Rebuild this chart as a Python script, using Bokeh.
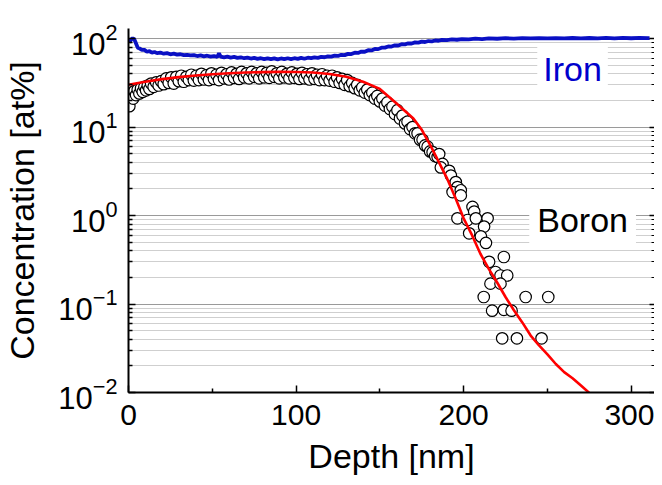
from bokeh.plotting import figure
from bokeh.models import LogAxis, FixedTicker, Label, Range1d
from bokeh.embed import file_html
from bokeh.resources import INLINE

FONT = "Liberation Sans"

# ---------------- data ----------------
iron_depth = [0.5, 1.5, 2.5, 3.5, 4.5, 5.5, 6.5, 8, 9.5, 11, 12.5, 14, 15.5, 17, 19, 21, 23, 25, 27, 29,
              31, 33, 35, 37, 39, 41, 43, 45, 47, 49, 51, 53, 54, 55, 57, 59, 61, 63, 65, 67,
              69, 71, 73, 75, 77, 79, 81, 83, 85, 87, 89, 91, 93, 95, 97, 99, 101, 103, 105, 107,
              109, 111, 113, 115, 117, 119, 121, 123, 125, 127, 129, 131, 133, 135, 137, 139, 141, 143, 145, 147,
              149, 151, 153, 155, 157, 159, 161, 163, 165, 167, 169, 171, 173, 175, 177, 179, 181, 183, 185, 187,
              190, 193, 196, 199, 203, 207, 211, 215, 220, 225, 230, 235, 240, 245, 250, 255, 260, 265, 270, 275,
              280, 285, 290, 295, 300, 305, 310, 311]
iron_conc = [90, 97, 101, 98, 88, 79, 77.5, 74.5, 74.5, 71, 72, 69.5, 70.5, 68.5, 69.5, 67.5, 68.5, 66.5, 67.5, 66,
             66.5, 65, 65.5, 64.5, 65, 63.5, 64.5, 63, 64, 62.5, 63.5, 62, 68, 62.5, 61.5, 62.5, 61, 62, 60.5, 61.5,
             60, 61, 59.5, 60.5, 59, 60, 58.5, 59.8, 58.5, 59.8, 58.3, 59.6, 58.5, 60, 58.6, 60, 59, 60.5, 59.2, 60.8,
             60, 61.3, 60.6, 62, 61.5, 63, 62.5, 64.2, 63.6, 65.6, 65, 67.2, 66.8, 69.2, 68.8, 71.3, 71, 73.8, 73.5, 76.3,
             76, 78.9, 79, 81.5, 81.2, 84, 83.5, 86.5, 86, 88.5, 88, 90.5, 90, 92.2, 91.5, 93.8, 93.2, 95.2, 94.5, 96.5,
             96, 97.8, 97, 98.8, 98, 99.8, 98.8, 100.6, 99.6, 101, 100, 101.2, 100.3, 101.3, 100.4, 101.4, 100.5, 101.5, 100.6, 101.5,
             100.7, 101.6, 100.8, 101.7, 100.9, 101.7, 101, 101.3]

boron_depth = [0.5, 1.2, 2.0, 2.8, 3.5, 4.5, 5.5, 6.5, 7.5, 8.5, 9.5, 10.5, 11.5, 12.5, 13.5, 15, 16.5, 18, 19.5, 21,
               22.5, 24, 25.5, 27, 28.5, 30, 31.5, 33, 34.5, 36, 37.5, 39, 40.5, 42, 43.5, 45, 46.5, 48, 49.5, 51,
               52.5, 54, 55.5, 57, 58.5, 60, 61.5, 63, 64.5, 66, 67.5, 69, 70.5, 72, 73.5, 75, 76.5, 78, 79.5, 81,
               82.5, 84, 85.5, 87, 88.5, 90, 91.5, 93, 94.5, 96, 97.5, 99, 100.5, 102, 103.5, 105, 106.5, 108, 109.5, 111,
               112.5, 114, 115.5, 117, 118.5, 120, 121.5, 123, 124.5, 126, 127.5, 129, 130.5, 132, 133.5, 135, 136.5, 138, 139.5, 141,
               142.5, 144, 145.5, 147, 148.5, 150, 151.5, 153, 154.5, 156, 157.5, 159, 160.5, 162, 163.5, 165, 166.5, 168, 169.5, 171,
               172.5, 174, 175.5, 177, 178.5, 180, 181.5, 183, 184.5, 185.4, 187.4, 186.4, 191.4, 192.4, 195.3, 196.3, 193.4, 198.3, 198.3, 205.3,
               206.3, 196.3, 202.3, 207.3, 214.3, 212.2, 203.3, 210.3, 213.3, 215.2, 224, 219, 222, 226, 216, 222, 212, 237, 250.5, 217,
               224, 228.6, 223, 231.8, 246.5]
boron_conc = [17.2, 22, 24, 21, 25.5, 23, 26.5, 24, 27.5, 25, 28.5, 26, 29.5, 27, 31, 28.5, 32, 29.5, 33, 30.5,
              35.5, 31.5, 36.5, 31, 37, 33, 38, 32.5, 37, 34, 39, 33.5, 38, 34, 40, 34.5, 38.5, 34, 40.5, 35,
              39, 34, 41, 35.5, 39.5, 34.5, 41.5, 36, 40, 35, 42, 36.5, 40.5, 35.5, 42, 37, 40.5, 35.5, 42, 36.5,
              41, 36, 42.5, 37, 40.5, 35.5, 42, 36.5, 40, 35.5, 41.5, 36, 40, 35, 41, 35.5, 39.5, 34.5, 40.5, 35,
              39, 34, 39.5, 34, 38, 33.5, 38, 32.5, 36.5, 31.5, 35, 30, 34, 29, 31.5, 27.5, 30, 26, 28, 24.5,
              26.5, 23, 24.5, 21, 22.5, 19.5, 21, 17.5, 19, 16, 17, 14, 15.5, 12.5, 13.5, 11, 11.5, 9.5, 10, 8.5,
              8.5, 7.2, 7.2, 6.2, 6, 5.3, 5.2, 4.7, 4.6, 4.95, 3.83, 3.5, 3.2, 2.83, 2.39, 2.1, 1.84, 1.93, 1.69, 1.25,
              1.11, 0.93, 0.89, 0.93, 0.93, 0.75, 0.63, 0.58, 0.49, 0.30, 0.34, 0.23, 0.21, 0.21, 0.17, 0.17, 0.12, 0.12, 0.12, 0.084,
              0.086, 0.084, 0.041, 0.041, 0.041]

fit_depth = [0, 10, 20, 30, 40, 50, 60, 70, 80, 90, 100, 110, 120, 130, 140, 150, 160, 170, 175, 180,
             185, 190, 195, 200, 205, 210, 215, 220, 225, 230, 235, 240, 245, 250, 255, 260, 265, 270, 275, 280]
fit_conc = [30, 32.5, 34.8, 36.7, 38.3, 39.6, 40.6, 41.3, 41.8, 42, 41.9, 41.3, 39.8, 37, 32.5, 27, 18.5, 12.5, 9.3, 6.3,
            4.1, 2.65, 1.6, 0.93, 0.6, 0.37, 0.25, 0.175, 0.12, 0.085, 0.062, 0.044, 0.034, 0.027, 0.021, 0.017, 0.0145, 0.012, 0.0099, 0.0083]

x_major = [0, 100, 200, 300]
x_minor = [50, 150, 250]
y_major = [0.01, 0.1, 1, 10, 100]
y_minor = [0.02, 0.03, 0.04, 0.05, 0.06, 0.07, 0.08, 0.09,
           0.2, 0.3, 0.4, 0.5, 0.6, 0.7, 0.8, 0.9,
           2, 3, 4, 5, 6, 7, 8, 9,
           20, 30, 40, 50, 60, 70, 80, 90]

# ---------------- figure ----------------
p = figure(width=654, height=477, y_axis_type="log",
           x_range=Range1d(0, 313.9), y_range=Range1d(0.01, 130),
           output_backend="svg", toolbar_location=None,
           min_border_left=120, min_border_right=0, min_border_top=28, min_border_bottom=81)
p.outline_line_color = None
p.background_fill_color = "white"

p.xgrid.visible = False
yt = FixedTicker(ticks=y_major, minor_ticks=y_minor)
p.yaxis.ticker = yt
p.ygrid.ticker = yt
p.ygrid.grid_line_color = "#9a9a9a"
p.ygrid.grid_line_width = 1
p.ygrid.minor_grid_line_color = "#cfcfcf"
p.ygrid.minor_grid_line_width = 1

p.xaxis.ticker = FixedTicker(ticks=x_major, minor_ticks=x_minor)

for ax in (p.xaxis, p.yaxis):
    ax.axis_line_width = 2
    ax.axis_line_color = "black"
    ax.major_tick_line_width = 1.5
    ax.minor_tick_line_width = 1.5
    ax.major_tick_out = 0
    ax.minor_tick_out = 0
    ax.major_tick_in = 7
    ax.minor_tick_in = 4
    ax.major_label_text_font = FONT
    ax.axis_label_text_font = FONT
    ax.axis_label_text_font_style = "normal"
    ax.axis_label_text_font_size = "34px"
    ax.axis_label_text_color = "black"
    ax.major_label_text_color = "black"

p.xaxis.axis_label = "Depth [nm]"
p.yaxis.axis_label = "Concentration [at%]"
p.xaxis.major_label_text_font_size = "30px"
p.yaxis.major_label_text_font_size = "31px"
p.xaxis.major_label_standoff = 12
p.yaxis.major_label_standoff = 11
p.xaxis.axis_label_standoff = 9
p.yaxis.axis_label_standoff = 14

right = LogAxis(ticker=yt, axis_line_color=None,
                major_label_text_font_size="1px", major_label_text_color=None,
                major_tick_in=5, major_tick_out=0, minor_tick_in=3, minor_tick_out=0,
                major_tick_line_width=1.5, minor_tick_line_width=1.2, major_label_standoff=0)
p.add_layout(right, "right")

# ---------------- glyphs ----------------
p.scatter(boron_depth, boron_conc, size=11.5, marker="circle", fill_color="white",
          line_color="black", line_width=1.2)
p.line(fit_depth, fit_conc, line_color="#ff0000", line_width=2.6)
p.line(iron_depth, iron_conc, line_color="#0a10c4", line_width=3.8)

p.add_layout(Label(x=265, y=45.5, text="Iron", text_color="#0000cc", text_font=FONT,
                   text_font_size="34px", text_align="center", text_baseline="middle",
                   background_fill_color="white", padding=6))
p.add_layout(Label(x=271, y=0.9, text="Boron", text_color="black", text_font=FONT,
                   text_font_size="34px", text_align="center", text_baseline="middle",
                   background_fill_color="white", padding=8))

open("out.html", "w").write(file_html(p, INLINE))
